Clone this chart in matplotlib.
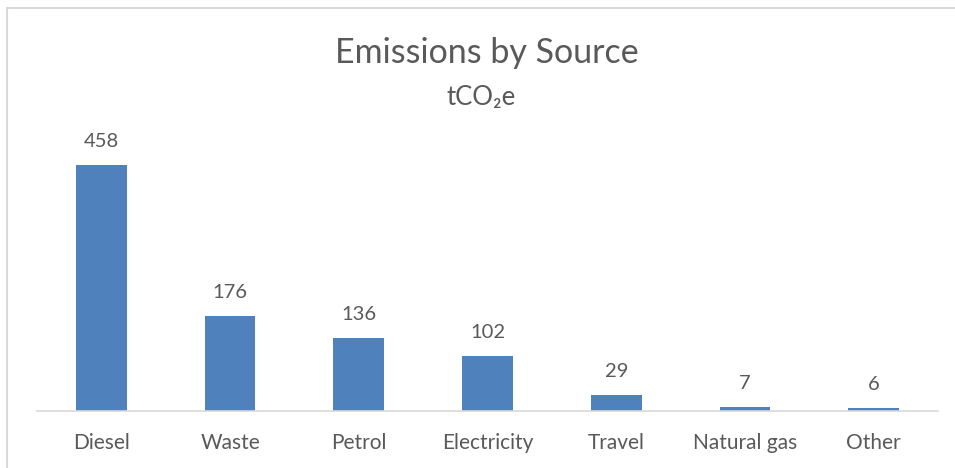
import matplotlib
matplotlib.use("Agg")
import matplotlib.pyplot as plt
from matplotlib.patches import Rectangle

sources = ["Diesel", "Waste", "Petrol", "Electricity", "Travel", "Natural gas", "Other"]
emissions = [458, 176, 136, 102, 29, 7, 6]

BAR_COLOR = "#4F81BD"
TEXT_COLOR = "#595959"
LINE_COLOR = "#D9D9D9"
FONT = ["Lato", "DejaVu Sans"]

fig = plt.figure(figsize=(9.55, 4.68), dpi=100)
ax = fig.add_axes([37 / 955, 0.1218, 901 / 955, 0.574])

x = range(len(sources))
bars = ax.bar(x, emissions, width=0.395, color=BAR_COLOR)
ax.set_xlim(-0.5, len(sources) - 0.5)
ax.set_ylim(0, 500)

for b, v in zip(bars, emissions):
    ax.annotate(str(v), (b.get_x() + b.get_width() / 2, v), xytext=(0, 17),
                textcoords="offset points", ha="center", va="center",
                fontsize=14.5, color=TEXT_COLOR, family=FONT)

ax.set_xticks(list(x))
ax.set_xticklabels(sources, fontsize=15, color=TEXT_COLOR, family=FONT)
ax.tick_params(axis="x", length=0, pad=16)
ax.set_yticks([])
for side in ["top", "right", "left"]:
    ax.spines[side].set_visible(False)
ax.spines["bottom"].set_color(LINE_COLOR)
ax.spines["bottom"].set_linewidth(1.2)

fig.text(487 / 955, 1 - 53 / 468, "Emissions by Source", ha="center", va="center",
         fontsize=24.5, color=TEXT_COLOR, family=FONT)
fig.text(481 / 955, 1 - 97 / 468, "tCO\u2082e", ha="center", va="center",
         fontsize=18.5, color=TEXT_COLOR, family=FONT)

# chart frame, clipped on the right and bottom
fig.patches.append(Rectangle((7 / 955, -0.1), 1.2, 1 - 8 / 468 + 0.1,
                             transform=fig.transFigure, fill=False,
                             edgecolor=LINE_COLOR, linewidth=1.5))

fig.savefig("out.png", dpi=100, facecolor="white")
